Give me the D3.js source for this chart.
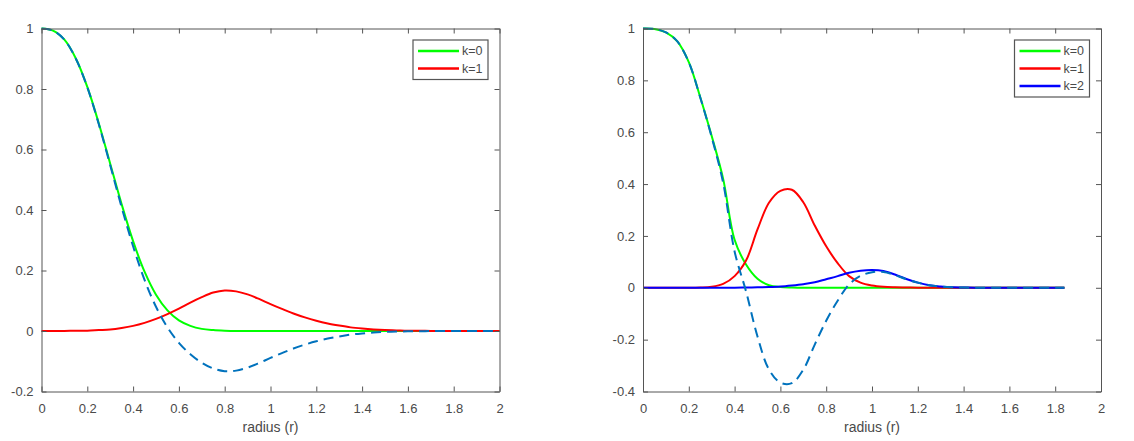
<!DOCTYPE html>
<html>
<head>
<meta charset="utf-8">
<title>Radial profiles by k</title>
<script src="https://d3js.org/d3.v7.min.js"></script>
<style>
  body { margin: 0; background: #fff; }
  svg text { font-family: "Liberation Sans", Arial, Helvetica, sans-serif; fill: #4a4a4a; }
</style>
</head>
<body>
<script>
// left panel: radius 0..2 step 0.05
const radiusLeft = [0, 0.05, 0.1, 0.15, 0.2, 0.25, 0.3, 0.35, 0.4, 0.45,
  0.5, 0.55, 0.6, 0.65, 0.7, 0.75, 0.8, 0.85, 0.9, 0.95,
  1.0, 1.05, 1.1, 1.15, 1.2, 1.25, 1.3, 1.35, 1.4, 1.45,
  1.5, 1.55, 1.6, 1.65, 1.7, 1.75, 1.8, 1.85, 1.9, 1.95, 2.0];
const leftK0 = [1, 0.993, 0.963, 0.901, 0.807, 0.687, 0.553, 0.419, 0.297, 0.196,
  0.120, 0.068, 0.035, 0.017, 0.007, 0.003, 0.001, 0, 0, 0,
  0, 0, 0, 0, 0, 0, 0, 0, 0, 0,
  0, 0, 0, 0, 0, 0, 0, 0, 0, 0, 0];
const leftK1 = [0, 0, 0, 0.001, 0.001, 0.003, 0.005, 0.010, 0.017, 0.027,
  0.040, 0.056, 0.074, 0.094, 0.112, 0.127, 0.134, 0.131, 0.121, 0.106,
  0.089, 0.073, 0.058, 0.045, 0.034, 0.025, 0.018, 0.012, 0.008, 0.005,
  0.003, 0.002, 0.001, 0.001, 0, 0, 0, 0, 0, 0, 0];
const leftSum = [1, 0.993, 0.963, 0.900, 0.806, 0.684, 0.548, 0.409, 0.280, 0.169,
  0.080, 0.012, -0.039, -0.077, -0.105, -0.124, -0.133, -0.131, -0.121, -0.106,
  -0.089, -0.073, -0.058, -0.045, -0.034, -0.025, -0.018, -0.012, -0.008, -0.005,
  -0.003, -0.002, -0.001, -0.001, 0, 0, 0, 0, 0, 0, 0];

// right panel: radius 0..1.8 step 0.05, then 1.84
const radiusRight = [0, 0.05, 0.1, 0.15, 0.2, 0.25, 0.3, 0.35, 0.4, 0.45,
  0.5, 0.55, 0.6, 0.65, 0.7, 0.75, 0.8, 0.85, 0.9, 0.95,
  1.0, 1.05, 1.1, 1.15, 1.2, 1.25, 1.3, 1.35, 1.4, 1.45,
  1.5, 1.55, 1.6, 1.65, 1.7, 1.75, 1.8, 1.84];
const rightK0 = [1, 0.998, 0.985, 0.950, 0.870, 0.735, 0.585, 0.420, 0.185, 0.090,
  0.035, 0.010, 0.003, 0.001, 0, 0, 0, 0, 0, 0,
  0, 0, 0, 0, 0, 0, 0, 0, 0, 0,
  0, 0, 0, 0, 0, 0, 0, 0];
const rightK1 = [0, 0, 0, 0, 0, 0.001, 0.004, 0.015, 0.045, 0.105,
  0.225, 0.328, 0.374, 0.378, 0.330, 0.240, 0.160, 0.095, 0.045, 0.020,
  0.009, 0.004, 0.002, 0.001, 0, 0, 0, 0, 0, 0,
  0, 0, 0, 0, 0, 0, 0, 0];
const rightK2 = [0, 0, 0, 0, 0, 0, 0, 0, 0, 0.001,
  0.002, 0.003, 0.005, 0.009, 0.014, 0.021, 0.033, 0.045, 0.058, 0.066,
  0.069, 0.065, 0.051, 0.034, 0.020, 0.010, 0.005, 0.002, 0.001, 0,
  0, 0, 0, 0, 0, 0, 0, 0];
const rightSum = [1, 0.998, 0.985, 0.950, 0.870, 0.734, 0.581, 0.405, 0.140, -0.014,
  -0.188, -0.315, -0.366, -0.368, -0.316, -0.219, -0.127, -0.050, 0.013, 0.046,
  0.060, 0.061, 0.049, 0.033, 0.020, 0.010, 0.005, 0.002, 0.001, 0,
  0, 0, 0, 0, 0, 0, 0, 0];

const xTicks = [0, 0.2, 0.4, 0.6, 0.8, 1, 1.2, 1.4, 1.6, 1.8, 2];
const leftYTicks = [-0.2, 0, 0.2, 0.4, 0.6, 0.8, 1];
const rightYTicks = [-0.4, -0.2, 0, 0.2, 0.4, 0.6, 0.8, 1];
const legendLabels = ["k=0", "k=1", "k=2"];
const seriesColors = ["#00ff00", "#ff0000", "#0000ff"];
const sumColor = "#0072bd";
const xLabel = "radius (r)";

const svg = d3.select("body").append("svg")
    .attr("width", 1134)
    .attr("height", 441);

const fmt = d => String(+d.toFixed(1));

function drawPanel(left, radius, comps, sum, yDomain, yTicks) {
  const w = 458, h = 363, top = 28.5;
  const x = d3.scaleLinear().domain([0, 2]).range([0, w]);
  const y = d3.scaleLinear().domain(yDomain).range([h, 0]);

  const g = svg.append("g").attr("transform", `translate(${left},${top})`);

  // curves first, box on top like matlab
  const line = d3.line()
      .x((d, i) => x(radius[i]))
      .y(d => y(d))
      .curve(d3.curveCatmullRom.alpha(0.5));

  comps.forEach((vals, i) => {
    g.append("path")
      .attr("d", line(vals))
      .attr("fill", "none")
      .attr("stroke", seriesColors[i])
      .attr("stroke-width", 2);
  });
  g.append("path")
    .attr("d", line(sum))
    .attr("fill", "none")
    .attr("stroke", sumColor)
    .attr("stroke-width", 2)
    .attr("stroke-dasharray", "10,6");

  // axes, ticks inward on all four sides
  const axes = [
    g.append("g").attr("transform", `translate(0,${h})`)
      .call(d3.axisBottom(x).tickValues(xTicks).tickFormat(fmt).tickSizeInner(-5).tickSizeOuter(0).tickPadding(12)),
    g.append("g")
      .call(d3.axisTop(x).tickValues(xTicks).tickFormat("").tickSizeInner(-5).tickSizeOuter(0)),
    g.append("g")
      .call(d3.axisLeft(y).tickValues(yTicks).tickFormat(fmt).tickSizeInner(-5).tickSizeOuter(0).tickPadding(8)),
    g.append("g").attr("transform", `translate(${w},0)`)
      .call(d3.axisRight(y).tickValues(yTicks).tickFormat("").tickSizeInner(-5).tickSizeOuter(0))
  ];
  axes.forEach(a => {
    a.selectAll("path, line").attr("stroke", "#555").attr("stroke-width", 1);
    a.selectAll("text").style("font-size", "13px");
  });

  g.append("text")
    .attr("x", w / 2)
    .attr("y", h + 40)
    .attr("text-anchor", "middle")
    .style("font-size", "14px")
    .text(xLabel);

  // legend
  const n = comps.length;
  const lg = g.append("g").attr("transform", `translate(${w - 86.5},11.5)`);
  lg.append("rect")
    .attr("width", 75)
    .attr("height", 22 + 17.5 * (n - 1))
    .attr("fill", "#fff")
    .attr("stroke", "#555")
    .attr("stroke-width", 1.2);
  comps.forEach((vals, i) => {
    const yy = 11 + 17.5 * i;
    lg.append("line")
      .attr("x1", 5).attr("x2", 46)
      .attr("y1", yy).attr("y2", yy)
      .attr("stroke", seriesColors[i])
      .attr("stroke-width", 2.5);
    lg.append("text")
      .attr("x", 49)
      .attr("y", yy)
      .attr("dy", "0.35em")
      .style("font-size", "12.5px")
      .text(legendLabels[i]);
  });
}

drawPanel(41.5, radiusLeft, [leftK0, leftK1], leftSum, [-0.2, 1], leftYTicks);
drawPanel(643, radiusRight, [rightK0, rightK1, rightK2], rightSum, [-0.4, 1], rightYTicks);
</script>
</body>
</html>
